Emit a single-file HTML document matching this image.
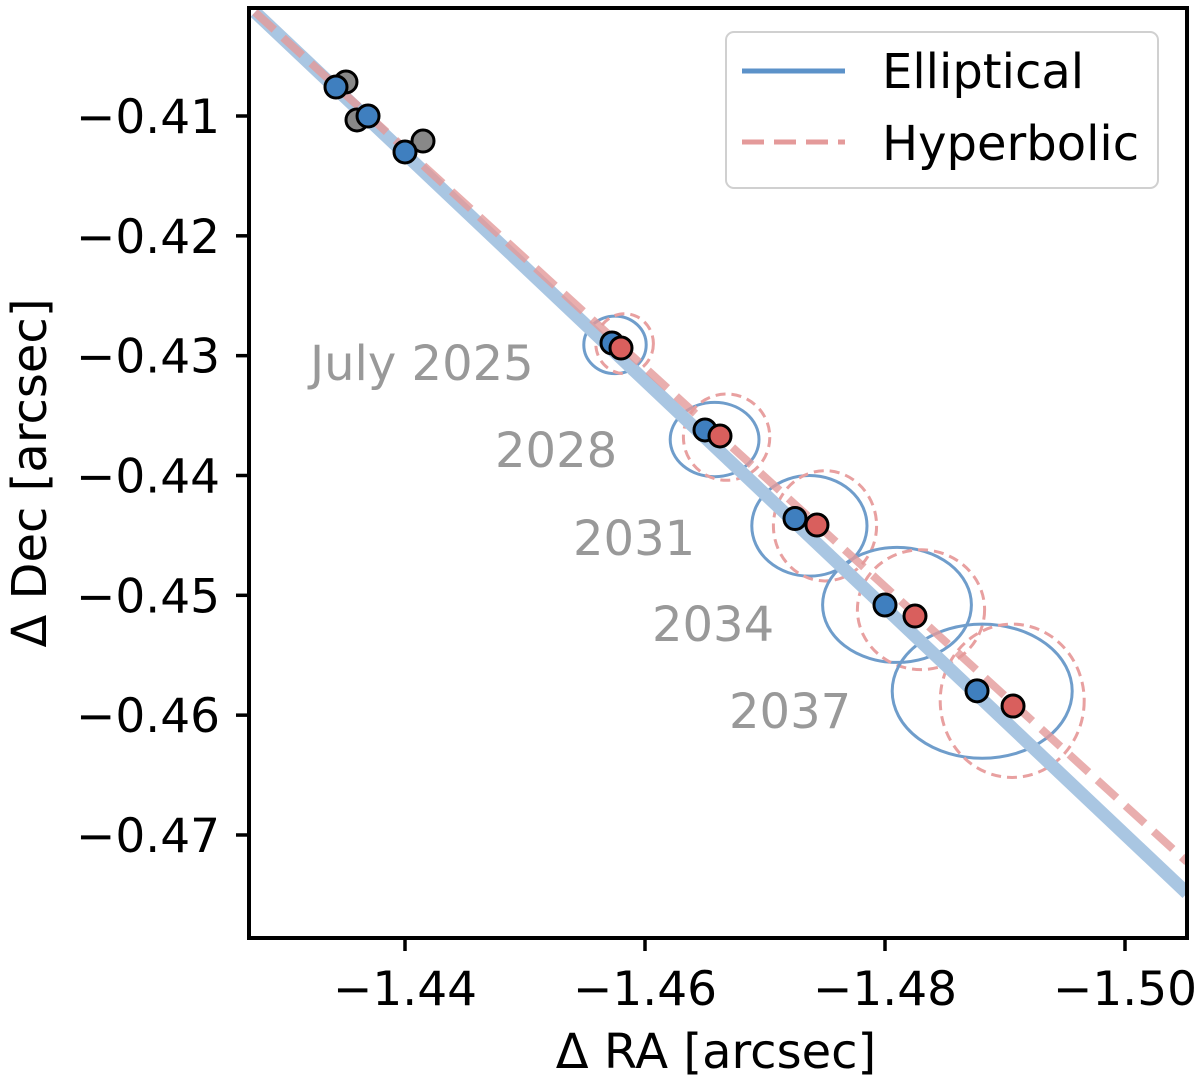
<!DOCTYPE html>
<html><head><meta charset="utf-8"><style>
html,body{margin:0;padding:0;background:#fff;}
svg{display:block;font-family:"DejaVu Sans","Liberation Sans",sans-serif;}
</style></head><body>
<svg id="chart" width="1200" height="1082">
<defs><clipPath id="clip"><rect x="249" y="8" width="938" height="930"/></clipPath></defs>
<g id="plot" clip-path="url(#clip)"></g>
<g id="axes"></g>
</svg>
<script>
const xTicks=[-1.44,-1.46,-1.48,-1.50];
const xTickLabels=["\u22121.44","\u22121.46","\u22121.48","\u22121.50"];
const yTicks=[-0.41,-0.42,-0.43,-0.44,-0.45,-0.46,-0.47];
const yTickLabels=["\u22120.41","\u22120.42","\u22120.43","\u22120.44","\u22120.45","\u22120.46","\u22120.47"];
const ellLineX=[-1.4275,-1.50517];
const ellLineY=[-0.40133,-0.47486];
const hypLineX=[-1.4275,-1.50517];
const hypLineY=[-0.40133,-0.47225];
const obsBlueX=[-1.43425,-1.43692,-1.44];
const obsBlueY=[-0.40758,-0.41,-0.4130];
const obsGrayX=[-1.43508,-1.436,-1.4415];
const obsGrayY=[-0.40716,-0.41033,-0.41209];
const predBlueX=[-1.45725,-1.465,-1.4725,-1.48,-1.48767];
const predBlueY=[-0.42894,-0.43620,-0.44359,-0.45081,-0.45797];
const predRedX=[-1.458,-1.46625,-1.47433,-1.4825,-1.49067];
const predRedY=[-0.42936,-0.43670,-0.44413,-0.45173,-0.45924];
const cBlueX=[-1.4575,-1.4658,-1.4737,-1.4810,-1.4881];
const cBlueY=[-0.4291,-0.4370,-0.4442,-0.4508,-0.4580];
const cBlueRX=[0.0026,0.0037,0.0048,0.0062,0.0075];
const cBlueRY=[0.0024,0.0031,0.0042,0.0048,0.0056];
const cRedX=[-1.4583,-1.4668,-1.4750,-1.4830,-1.4906];
const cRedY=[-0.4290,-0.4368,-0.4442,-0.4512,-0.4588];
const cRedRX=[0.0024,0.0036,0.0043,0.0053,0.0060];
const cRedRY=[0.0025,0.0036,0.0046,0.0050,0.0064];
const yearLabels=["July 2025","2028","2031","2034","2037"];
const yearLabelX=[-1.43208,-1.4475,-1.454,-1.46058,-1.467];
const yearLabelY=[-0.43203,-0.43929,-0.44663,-0.45381,-0.46107];

const X=v=>405+(-1.44-v)*12000;
const Y=v=>116+(-0.41-v)*11983;
const NS="http://www.w3.org/2000/svg";
function mk(tag,attrs,parent){const e=document.createElementNS(NS,tag);for(const k in attrs)e.setAttribute(k,attrs[k]);parent.appendChild(e);return e;}
const plot=document.getElementById('plot'),axes=document.getElementById('axes');

for(let i=0;i<cBlueX.length;i++){
  let e=mk('ellipse',{cx:X(cBlueX[i]),cy:Y(cBlueY[i]),rx:cBlueRX[i]*12000,ry:cBlueRY[i]*11983,fill:'none',stroke:'#6f9dcb','stroke-width':3},plot);
  
  
  let r=mk('ellipse',{cx:X(cRedX[i]),cy:Y(cRedY[i]),rx:cRedRX[i]*12000,ry:cRedRY[i]*11983,fill:'none',stroke:'#e8a0a0','stroke-width':3,'stroke-dasharray':'10,6'},plot);
  
  
}
let l1=mk('line',{x1:X(ellLineX[0]),y1:Y(ellLineY[0]),x2:X(ellLineX[1]),y2:Y(ellLineY[1]),stroke:'#a9c6e2','stroke-width':13},plot);


let l2=mk('line',{x1:X(hypLineX[0]),y1:Y(hypLineY[0]),x2:X(hypLineX[1]),y2:Y(hypLineY[1]),stroke:'#e49a9a','stroke-opacity':0.8,'stroke-width':8,'stroke-dasharray':'26,12'},plot);



function pt(x,y,fill,name){const c=mk('circle',{cx:X(x),cy:Y(y),r:11,fill:fill,stroke:'#000','stroke-width':3},plot);
  
  }
for(let i=0;i<obsGrayX.length;i++)pt(obsGrayX[i],obsGrayY[i],'#888888','observed-point-gray');
for(let i=0;i<obsBlueX.length;i++)pt(obsBlueX[i],obsBlueY[i],'#3f7fbf','observed-point-blue');
for(let i=0;i<predBlueX.length;i++){pt(predBlueX[i],predBlueY[i],'#3f7fbf','elliptical-prediction');pt(predRedX[i],predRedY[i],'#d95f5d','hyperbolic-prediction');}
for(let i=0;i<yearLabels.length;i++){
  const t=mk('text',{x:X(yearLabelX[i]),y:Y(yearLabelY[i]),'font-size':48,fill:'#999999'},plot);
  t.textContent=yearLabels[i];
  
  
}
let fr=mk('rect',{x:249,y:8,width:938,height:930,fill:'none',stroke:'#000','stroke-width':4},axes);


for(let i=0;i<xTicks.length;i++){
  const x=X(xTicks[i]);
  mk('line',{x1:x,y1:938,x2:x,y2:951,stroke:'#000','stroke-width':3.5},axes);
  const t=mk('text',{x:x,y:1005,'font-size':47,'text-anchor':'middle'},axes);
  t.textContent=xTickLabels[i];
  
  
}
for(let i=0;i<yTicks.length;i++){
  const y=Y(yTicks[i]);
  mk('line',{x1:236,y1:y,x2:249,y2:y,stroke:'#000','stroke-width':3.5},axes);
  const t=mk('text',{x:220,y:y+17,'font-size':47,'text-anchor':'end'},axes);
  t.textContent=yTickLabels[i];
  
  
}
</script>
<svg style="position:absolute;left:0;top:0" width="1200" height="1082">
<text x="716" y="1068" font-size="48" text-anchor="middle" font-family="DejaVu Sans, Liberation Sans, sans-serif">Δ RA [arcsec]</text>
<text transform="translate(46,473) rotate(-90)" font-size="48" text-anchor="middle" font-family="DejaVu Sans, Liberation Sans, sans-serif">Δ Dec [arcsec]</text>
<g>
<rect x="726" y="32" width="432" height="156" rx="8" fill="#fff" fill-opacity="0.85" stroke="#d0d0d0" stroke-width="2"/>
<line x1="742" y1="71" x2="845" y2="71" stroke="#3f7fbf" stroke-opacity="0.85" stroke-width="5"/>
<text x="882" y="88" font-size="48" font-family="DejaVu Sans, Liberation Sans, sans-serif">Elliptical</text>
<line x1="742" y1="142" x2="845" y2="142" stroke="#e49a9a" stroke-width="5" stroke-dasharray="22,10"/>
<text x="882" y="160" font-size="48" font-family="DejaVu Sans, Liberation Sans, sans-serif">Hyperbolic</text>
</g>
</svg>
</body></html>
